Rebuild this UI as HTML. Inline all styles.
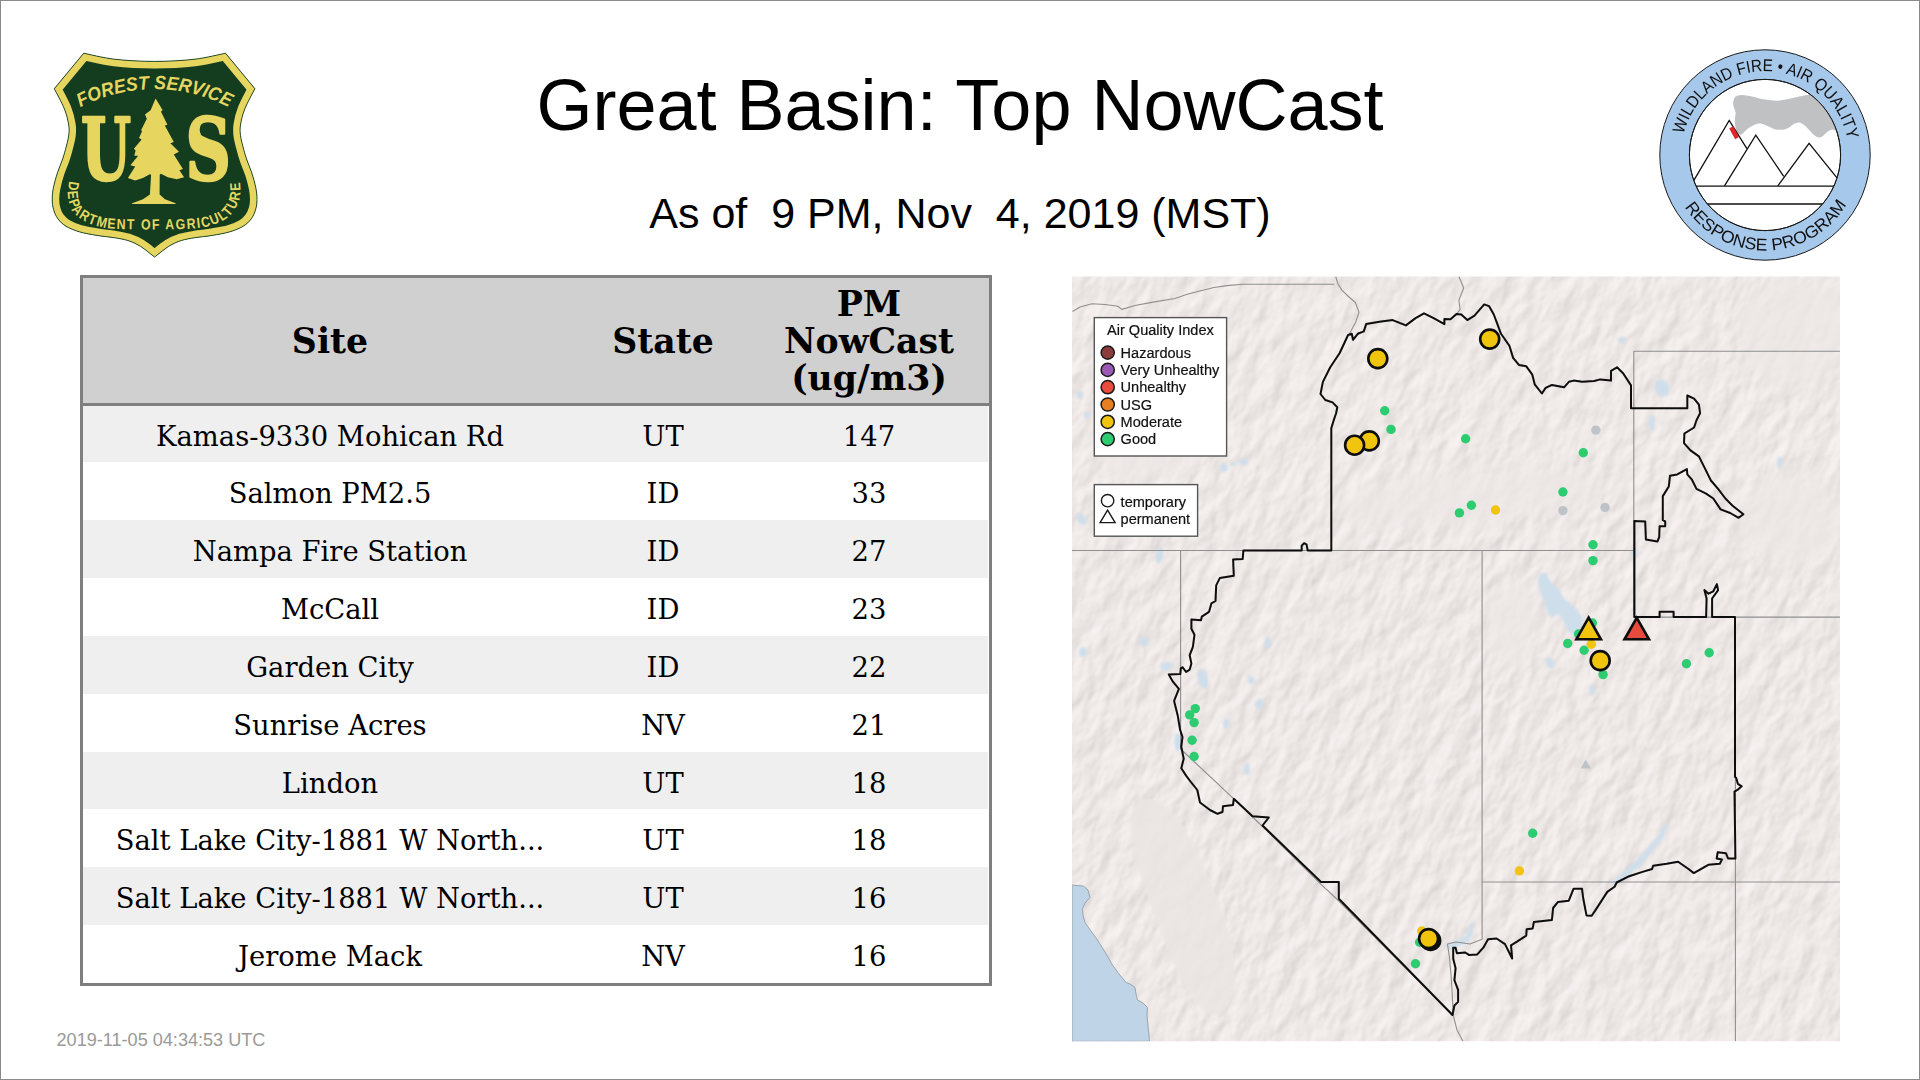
<!DOCTYPE html>
<html lang="en">
<head>
<meta charset="utf-8">
<title>Great Basin: Top NowCast</title>
<style>
  html, body { margin: 0; padding: 0; background: #ffffff; }
  body { width: 1920px; height: 1080px; position: relative; overflow: hidden;
         font-family: "Liberation Sans", sans-serif; color: #000; }
  #frame { position: absolute; left: 0; top: 0; width: 1918px; height: 1078px;
           border: 1px solid #8a8a8a; box-sizing: content-box; pointer-events: none; z-index: 10; }
  #title { position: absolute; left: 0; width: 1920px; top: 64px; text-align: center;
           font-size: 72px; line-height: 82px; white-space: pre; }
  #subtitle { position: absolute; left: 0; width: 1920px; top: 189px; text-align: center;
           font-size: 43px; line-height: 48px; white-space: pre; }
  #stamp { position: absolute; left: 56.5px; top: 1029.7px; font-size: 18.1px; line-height: 20px;
           color: #9a9a9a; white-space: pre; }

  /* ---------- table ---------- */
  #tbl { position: absolute; left: 80px; top: 275px; width: 906px; height: 705px;
         border: 3px solid #7f7f7f; background: #ffffff;
         font-family: "DejaVu Serif", "Liberation Serif", serif; }
  #tbl .hd { position: absolute; left: 0; top: 0; width: 906px; height: 125px; background: #d0d0d0;
             border-bottom: 3px solid #7f7f7f; font-weight: bold; font-size: 34.67px; line-height: 37.3px; }
  #tbl .hd div { position: absolute; text-align: center; }
  #tbl .row { position: absolute; left: 0; width: 905px; }
  #tbl .row.odd { background: #efefef; }
  #tbl .row span { position: absolute; top: 0; text-align: center; font-size: 27.4px; white-space: pre; }
  #tbl .c1 { left: 0; width: 494px; }
  #tbl .c2 { left: 494px; width: 172px; }
  #tbl .c3 { left: 666px; width: 240px; }
</style>
</head>
<body>
<div id="title">Great Basin: Top NowCast</div>
<div id="subtitle">As of  9 PM, Nov  4, 2019 (MST)</div>

<div id="tbl">
  <div class="hd">
    <div class="c1" style="top:43.5px">Site</div>
    <div class="c2" style="top:43.5px">State</div>
    <div class="c3" style="top:6.5px">PM<br>NowCast<br>(ug/m3)</div>
  </div>
  <div class="row odd" style="top:128px;height:56px;line-height:61.5px"><span class="c1">Kamas-9330 Mohican Rd</span><span class="c2">UT</span><span class="c3">147</span></div>
  <div class="row" style="top:184px;height:57.9px;line-height:63.5px"><span class="c1">Salmon PM2.5</span><span class="c2">ID</span><span class="c3">33</span></div>
  <div class="row odd" style="top:241.9px;height:57.9px;line-height:63.5px"><span class="c1">Nampa Fire Station</span><span class="c2">ID</span><span class="c3">27</span></div>
  <div class="row" style="top:299.8px;height:57.9px;line-height:63.5px"><span class="c1">McCall</span><span class="c2">ID</span><span class="c3">23</span></div>
  <div class="row odd" style="top:357.7px;height:57.9px;line-height:63.5px"><span class="c1">Garden City</span><span class="c2">ID</span><span class="c3">22</span></div>
  <div class="row" style="top:415.6px;height:57.9px;line-height:63.5px"><span class="c1">Sunrise Acres</span><span class="c2">NV</span><span class="c3">21</span></div>
  <div class="row odd" style="top:473.5px;height:57.9px;line-height:63.5px"><span class="c1">Lindon</span><span class="c2">UT</span><span class="c3">18</span></div>
  <div class="row" style="top:531.4px;height:57.9px;line-height:63.5px"><span class="c1">Salt Lake City-1881 W North...</span><span class="c2">UT</span><span class="c3">18</span></div>
  <div class="row odd" style="top:589.3px;height:57.9px;line-height:63.5px"><span class="c1">Salt Lake City-1881 W North...</span><span class="c2">UT</span><span class="c3">16</span></div>
  <div class="row" style="top:647.2px;height:57.8px;line-height:63.5px"><span class="c1">Jerome Mack</span><span class="c2">NV</span><span class="c3">16</span></div>
</div>

<div id="stamp">2019-11-05 04:34:53 UTC</div>

<!--MAP-->
<svg id="map" width="1920" height="1080" viewBox="0 0 1920 1080" style="position:absolute;left:0;top:0">
<defs><clipPath id="mclip"><rect x="1072" y="276.4" width="768" height="764.9"/></clipPath>
<filter id="relief" x="0" y="0" width="100%" height="100%" color-interpolation-filters="sRGB"><feTurbulence type="fractalNoise" baseFrequency="0.06 0.032" numOctaves="5" seed="7" result="n"/><feDiffuseLighting in="n" surfaceScale="1.25" diffuseConstant="1.2" lighting-color="#f3edec" result="l"><feDistantLight azimuth="200" elevation="55"/></feDiffuseLighting><feGaussianBlur in="l" stdDeviation="0.9"/></filter>
<filter id="soft"><feGaussianBlur stdDeviation="1.1"/></filter><filter id="soft6" x="-30%" y="-30%" width="160%" height="160%"><feGaussianBlur stdDeviation="9"/></filter>
<filter id="soft2"><feGaussianBlur stdDeviation="0.6"/></filter></defs>
<g clip-path="url(#mclip)">
<rect x="1072" y="276.4" width="768" height="764.9" fill="#ece6e5"/>
<g transform="rotate(24 1456 658)"><rect x="880" y="90" width="1150" height="1140" filter="url(#relief)" opacity="0.5"/></g>
<g fill="#ede7e6" opacity="0.75" filter="url(#soft6)"><ellipse cx="1470" cy="497" rx="135" ry="26" transform="rotate(-6 1470 497)"/><ellipse cx="1512" cy="625" rx="26" ry="44"/><ellipse cx="1795" cy="330" rx="55" ry="55"/><ellipse cx="1790" cy="520" rx="55" ry="45"/><ellipse cx="1150" cy="430" rx="60" ry="50"/></g>
<path d="M1140 800 C1165 790 1190 830 1210 880 C1232 930 1245 985 1225 1010 C1205 1030 1180 985 1160 930 C1140 880 1120 820 1140 800Z" fill="#ebe5e4" opacity="0.85" filter="url(#soft)"/>
<path d="M1072.0 885.0 L1083.8 886.2 L1088.0 890.0 L1090.0 897.5 L1085.0 903.0 L1082.5 908.8 L1083.0 915.0 L1085.0 922.5 L1091.0 931.0 L1097.5 940.0 L1105.0 952.0 L1112.5 965.0 L1119.0 974.0 L1126.2 982.5 L1131.0 984.5 L1135.0 987.5 L1136.0 994.0 L1137.5 1000.0 L1143.0 1003.0 L1147.5 1007.5 L1147.0 1016.0 L1148.0 1025.0 L1149.5 1041.3 L1072.0 1041.3 Z" fill="#bfd4e6" stroke="#9aa4ad" stroke-width="1" filter="url(#soft2)"/>
<g fill="#cfdeeb" filter="url(#soft)">
<path d="M1539.8 573.1 L1546.3 572.7 L1548.1 577.8 L1553.7 585.2 L1559.3 588.9 L1563.9 599.1 L1570.4 603.7 L1576.9 609.3 L1581.5 616.7 L1583.3 623.1 L1578.7 631.5 L1574.1 635.2 L1568.5 631.5 L1563.9 622.2 L1559.3 613.9 L1555.6 614.8 L1551.9 618.5 L1548.1 613.9 L1544.4 601.9 L1540.7 592.6 L1537.5 581.5 Z"/>
<path d="M1668.0 824.0 L1664.0 836.0 L1652.0 852.0 L1640.0 866.0 L1626.0 877.0 L1614.0 886.0 L1611.0 883.0 L1622.0 873.0 L1636.0 861.0 L1648.0 848.0 L1659.0 834.0 L1664.0 824.0 Z"/>
<path d="M1447.0 944.0 L1456.0 941.0 L1466.0 936.0 L1470.0 925.0 L1474.0 922.0 L1473.0 933.0 L1468.0 942.0 L1458.0 947.0 L1448.0 950.0 Z"/>
<ellipse cx="1203" cy="679" rx="5" ry="10" transform="rotate(-15 1203 679)"/>
<ellipse cx="1177.7" cy="741.9" rx="3.5" ry="9" transform="rotate(0 1177.7 741.9)"/>
<ellipse cx="1662" cy="388" rx="7" ry="9" transform="rotate(-30 1662 388)"/>
<ellipse cx="1652" cy="423" rx="3" ry="8" transform="rotate(0 1652 423)"/>
<ellipse cx="1592" cy="690" rx="2.5" ry="5" transform="rotate(0 1592 690)"/>
<ellipse cx="1224" cy="468" rx="4" ry="4" transform="rotate(0 1224 468)"/>
<ellipse cx="1243.6" cy="461.9" rx="5" ry="3" transform="rotate(0 1243.6 461.9)"/>
<ellipse cx="1233" cy="464" rx="3" ry="2" transform="rotate(0 1233 464)"/>
<ellipse cx="1081.6" cy="519" rx="4" ry="6" transform="rotate(-30 1081.6 519)"/>
<ellipse cx="1159.4" cy="555.3" rx="4" ry="8" transform="rotate(10 1159.4 555.3)"/>
<ellipse cx="1166.4" cy="666.4" rx="6" ry="4" transform="rotate(-20 1166.4 666.4)"/>
<ellipse cx="1259.4" cy="703.9" rx="4" ry="5" transform="rotate(20 1259.4 703.9)"/>
<ellipse cx="1251.1" cy="680.3" rx="3" ry="4" transform="rotate(0 1251.1 680.3)"/>
<ellipse cx="1144.2" cy="641.4" rx="4" ry="5" transform="rotate(0 1144.2 641.4)"/>
<ellipse cx="1226.1" cy="723.3" rx="3" ry="5" transform="rotate(10 1226.1 723.3)"/>
<ellipse cx="1246.9" cy="769.2" rx="3" ry="6" transform="rotate(0 1246.9 769.2)"/>
<ellipse cx="1267.8" cy="642.8" rx="3" ry="6" transform="rotate(10 1267.8 642.8)"/>
<ellipse cx="1779.5" cy="462.4" rx="2.5" ry="6" transform="rotate(0 1779.5 462.4)"/>
<ellipse cx="1634" cy="553" rx="3" ry="5" transform="rotate(0 1634 553)"/>
<ellipse cx="1550" cy="663" rx="4" ry="6" transform="rotate(-30 1550 663)"/>
<ellipse cx="1083" cy="652" rx="4" ry="5" transform="rotate(0 1083 652)"/>
<ellipse cx="1622" cy="340" rx="4" ry="3" transform="rotate(0 1622 340)"/>
<ellipse cx="1080" cy="395" rx="3" ry="4" transform="rotate(0 1080 395)"/>
<ellipse cx="1087" cy="415" rx="3" ry="3" transform="rotate(0 1087 415)"/>
</g>
<g fill="none" stroke="#8f8f8f" stroke-width="1.1" stroke-linejoin="round" filter="url(#soft2)">
<path d="M1072.5 311.5 L1080.0 307.0 L1092.0 303.7 L1105.0 304.5 L1117.9 306.3 L1121.7 309.4 L1135.0 305.5 L1151.6 302.4 L1174.9 298.5 L1188.0 294.0 L1200.8 290.7 L1214.0 287.5 L1226.8 285.6 L1242.3 284.3 L1334.4 284.3"/>
<path d="M1335.7 276.5 L1338.0 284.0 L1342.1 290.4 L1349.0 297.0 L1355.4 302.5 L1359.0 312.1 L1355.9 321.7 L1349.3 334.0"/>
<path d="M1458.9 276.5 L1463.7 288.0 L1458.9 300.1 L1460.1 309.7 L1456.5 314.0"/>
<path d="M1072.0 550.5 L1633.8 550.5"/>
<path d="M1180.6 550.5 L1180.6 749.0 L1233.8 798.8 L1262.5 826.5 L1321.0 884.3 L1338.8 901.0 L1452.5 1015.0"/>
<path d="M1482.1 550.5 L1482.1 939.3"/>
<path d="M1840.0 351.2 L1633.8 351.2 L1633.8 617.1 L1840.0 617.1"/>
<path d="M1735.4 617.1 L1735.4 1041.3"/>
<path d="M1482.1 882.0 L1840.0 882.0"/>
<path d="M1482.1 939.3 L1470.0 944.0 L1456.0 942.0 L1447.5 944.0 L1449.6 958.5 L1451.0 975.0 L1452.0 990.0 L1453.2 1015.1 L1457.0 1030.0 L1462.9 1041.3"/>
</g>
<path d="M1331.3 550.5 L1331.3 428.2 L1333.7 420.4 L1336.1 413.2 L1337.3 407.2 L1332.5 402.4 L1325.3 400.0 L1320.5 394.0 L1322.9 381.9 L1330.1 367.5 L1339.7 353.0 L1348.1 335.0 L1351.8 333.8 L1353.0 339.8 L1357.8 333.8 L1363.8 331.4 L1366.2 324.1 L1379.4 321.7 L1392.7 320.1 L1405.9 325.4 L1415.6 318.1 L1424.0 313.3 L1433.6 318.1 L1444.4 324.1 L1444.4 318.9 L1450.5 319.3 L1456.5 314.0 L1461.3 314.5 L1467.3 320.1 L1474.5 315.7 L1484.2 304.4 L1489.0 306.1 L1493.8 314.5 L1497.4 324.1 L1501.0 333.8 L1509.4 345.8 L1513.1 357.9 L1519.1 365.1 L1526.3 366.3 L1532.3 374.7 L1534.7 384.3 L1541.9 393.5 L1545.6 387.9 L1552.0 384.9 L1564.1 387.3 L1568.9 381.8 L1573.7 380.6 L1582.1 381.8 L1594.2 381.0 L1600.2 379.4 L1611.0 380.6 L1611.0 370.9 L1617.0 367.3 L1623.1 373.3 L1631.0 385.4 L1631.0 408.2 L1687.3 408.2 L1687.3 395.5 L1694.1 398.6 L1698.9 404.6 L1700.1 413.1 L1696.5 420.3 L1694.1 427.5 L1684.4 433.5 L1684.0 443.1 L1690.5 450.4 L1698.9 456.4 L1704.9 468.4 L1710.9 480.5 L1718.1 488.9 L1725.4 498.5 L1732.6 505.7 L1743.4 514.2 L1738.6 517.8 L1730.2 513.0 L1720.6 509.4 L1713.3 498.5 L1706.1 493.7 L1696.5 488.9 L1691.7 479.3 L1687.3 474.4 L1686.9 469.1 L1677.2 474.4 L1670.0 475.7 L1668.8 486.5 L1662.8 496.1 L1662.8 520.2 L1665.2 521.4 L1665.2 526.2 L1659.6 526.2 L1659.2 537.0 L1657.5 541.4 L1645.9 539.4 L1645.2 521.4 L1634.4 520.9 L1634.4 617.1 L1659.6 617.1 L1659.6 611.8 L1673.6 611.8 L1673.6 617.1 L1706.1 617.1 L1706.6 598.5 L1704.4 590.1 L1708.5 593.7 L1713.3 591.3 L1716.9 584.1 L1718.1 590.1 L1712.1 598.5 L1712.1 617.1 L1735.0 617.1 L1735.0 776.7 L1736.2 777.9 L1737.9 783.9 L1741.7 786.3 L1737.4 789.9 L1734.5 791.6 L1735.4 858.5 L1735.4 858.5 L1728.1 858.5 L1726.0 853.3 L1717.7 852.3 L1716.7 858.5 L1721.9 859.6 L1719.8 863.8 L1708.3 864.8 L1693.8 873.1 L1688.5 869.0 L1678.1 861.7 L1666.7 863.8 L1653.1 865.8 L1652.1 869.0 L1641.7 872.1 L1629.2 876.2 L1616.7 882.5 L1614.6 886.7 L1607.3 891.9 L1595.8 909.6 L1591.7 915.8 L1586.5 915.4 L1583.2 898.3 L1582.0 888.7 L1573.6 888.7 L1568.8 900.7 L1558.0 901.9 L1553.1 908.0 L1551.9 920.0 L1533.9 921.9 L1532.7 928.4 L1526.7 929.2 L1526.2 935.7 L1517.0 941.7 L1511.0 945.3 L1512.2 958.5 L1509.8 953.7 L1505.0 944.1 L1496.6 938.5 L1488.1 939.3 L1483.3 947.7 L1477.3 954.4 L1468.9 954.9 L1465.3 952.5 L1456.9 953.2 L1455.6 947.7 L1453.2 947.7 L1453.2 958.5 L1455.6 968.2 L1454.4 980.2 L1458.1 989.8 L1458.1 1001.9 L1454.4 1005.5 L1452.5 1015.0 L1338.8 898.7 L1338.8 882.0 L1321.0 882.0 L1262.5 825.5 L1268.8 817.5 L1252.5 816.2 L1233.8 798.8 L1233.0 805.0 L1223.0 806.2 L1222.5 812.0 L1217.5 813.8 L1210.0 810.0 L1200.0 802.5 L1197.3 790.0 L1190.5 781.5 L1186.1 775.6 L1181.3 768.3 L1183.7 758.7 L1181.3 746.7 L1182.5 737.0 L1180.1 729.8 L1177.7 715.4 L1174.1 700.9 L1178.9 688.9 L1172.9 681.7 L1168.8 674.4 L1180.3 674.0 L1180.8 668.4 L1182.5 667.2 L1186.1 672.0 L1189.7 669.6 L1191.4 663.6 L1189.7 655.2 L1192.9 646.8 L1194.5 634.7 L1191.4 628.7 L1191.4 619.6 L1201.0 620.3 L1201.8 616.7 L1209.0 611.9 L1211.4 603.4 L1215.5 601.0 L1216.2 585.4 L1219.8 578.1 L1233.8 575.7 L1233.1 559.4 L1242.7 558.9 L1243.4 550.5 L1301.7 550.5 L1301.7 545.6 L1304.1 543.2 L1306.5 544.4 L1307.7 550.5 Z" fill="none" stroke="#0a0a0a" stroke-width="2.0" stroke-linejoin="round" filter="url(#soft2)"/>
<g fill="#2ecc71" filter="url(#soft2)"><circle cx="1384.7" cy="410.8" r="4.7"/><circle cx="1391" cy="429.4" r="4.7"/><circle cx="1465.6" cy="438.7" r="4.7"/><circle cx="1471.4" cy="505.2" r="4.7"/><circle cx="1459.4" cy="512.9" r="4.7"/><circle cx="1562.9" cy="492" r="4.7"/><circle cx="1583.3" cy="452.8" r="4.7"/><circle cx="1593" cy="544.7" r="4.7"/><circle cx="1593" cy="560.6" r="4.7"/><circle cx="1592.4" cy="623" r="4.7"/><circle cx="1578.5" cy="634" r="4.7"/><circle cx="1567.7" cy="643.5" r="4.7"/><circle cx="1584.1" cy="650.3" r="4.7"/><circle cx="1603.1" cy="674.6" r="4.7"/><circle cx="1686.4" cy="663.8" r="4.7"/><circle cx="1709.2" cy="652.7" r="4.7"/><circle cx="1532.7" cy="833.3" r="4.7"/><circle cx="1195.3" cy="708.6" r="4.7"/><circle cx="1189.7" cy="714.9" r="4.7"/><circle cx="1194.1" cy="722.6" r="4.7"/><circle cx="1192.1" cy="740.2" r="4.7"/><circle cx="1194.1" cy="756.5" r="4.7"/><circle cx="1419.6" cy="942.3" r="4.7"/><circle cx="1415.5" cy="963.75" r="4.7"/></g>
<g fill="#f1c40f" filter="url(#soft2)"><circle cx="1495.5" cy="510" r="4.7"/><circle cx="1591.3" cy="644.3" r="4.7"/><circle cx="1519.4" cy="870.9" r="4.7"/><circle cx="1421.8" cy="931" r="4.7"/></g>
<g fill="#bdc3c7" filter="url(#soft2)"><circle cx="1595.9" cy="430.1" r="4.7"/><circle cx="1562.9" cy="510.6" r="4.7"/><circle cx="1605" cy="507.4" r="4.7"/></g>
<path d="M1585.7 759.6 L1590.9 768.4 L1580.5 768.4 Z" fill="#bdc3c7" filter="url(#soft2)"/>
<g stroke="#0a0a0a" stroke-width="2.6" stroke-linejoin="miter" filter="url(#soft2)">
<circle cx="1430.6" cy="940.4" r="9.5" fill="#0a0a0a"/>
<circle cx="1428.6" cy="938.6" r="9.5" fill="#f1c40f"/>
<circle cx="1377.8" cy="358.6" r="9.5" fill="#f1c40f"/>
<circle cx="1489.7" cy="339.1" r="9.5" fill="#f1c40f"/>
<circle cx="1369.3" cy="440.9" r="9.5" fill="#f1c40f"/>
<circle cx="1354.6" cy="445.2" r="9.5" fill="#f1c40f"/>
<circle cx="1600.2" cy="660.6" r="9.5" fill="#f1c40f"/>
<path d="M1588.65 617.6 L1600.9 639.3 L1576.4 639.3 Z" fill="#f1c40f"/>
<path d="M1636.75 617.9 L1649 639.3 L1624.5 639.3 Z" fill="#e74c3c"/>
</g>
</g>
<g font-family="'Liberation Sans', sans-serif" font-size="14.55" fill="#111" stroke="#111" stroke-width="0.2">
<rect x="1094.3" y="317.6" width="132.3" height="138.4" fill="#fff" stroke="#555" stroke-width="1.4"/>
<text x="1160.4" y="334.6" text-anchor="middle">Air Quality Index</text>
<circle cx="1107.7" cy="352.6" r="6.6" fill="#8c3a3a" stroke="#1a1a1a" stroke-width="1.5"/>
<text x="1120.6" y="357.6">Hazardous</text>
<circle cx="1107.7" cy="369.9" r="6.6" fill="#9b59b6" stroke="#1a1a1a" stroke-width="1.5"/>
<text x="1120.6" y="374.9">Very Unhealthy</text>
<circle cx="1107.7" cy="387.2" r="6.6" fill="#e74c3c" stroke="#1a1a1a" stroke-width="1.5"/>
<text x="1120.6" y="392.2">Unhealthy</text>
<circle cx="1107.7" cy="404.5" r="6.6" fill="#e67e22" stroke="#1a1a1a" stroke-width="1.5"/>
<text x="1120.6" y="409.5">USG</text>
<circle cx="1107.7" cy="421.8" r="6.6" fill="#f1c40f" stroke="#1a1a1a" stroke-width="1.5"/>
<text x="1120.6" y="426.8">Moderate</text>
<circle cx="1107.7" cy="439.1" r="6.6" fill="#2ecc71" stroke="#1a1a1a" stroke-width="1.5"/>
<text x="1120.6" y="444.1">Good</text>
<rect x="1094.3" y="484.6" width="103.3" height="51.6" fill="#fff" stroke="#555" stroke-width="1.4"/>
<circle cx="1107.6" cy="500.7" r="6.2" fill="#fff" stroke="#1a1a1a" stroke-width="1.4"/>
<path d="M1107.6 510.2 L1115.1 522.6 L1100.1 522.6 Z" fill="#fff" stroke="#1a1a1a" stroke-width="1.4" stroke-linejoin="miter"/>
<text x="1120.6" y="506.5">temporary</text>
<text x="1120.6" y="523.6">permanent</text>
</g>
</svg>
<!--/MAP-->
<!--LOGO1-->
<svg id="fs" width="300" height="300" viewBox="0 0 300 300" style="position:absolute;left:0;top:0">
<defs><clipPath id="shc"><path d="M83.7 53.2 C88.8 54.2 102.7 57.8 114.5 59.2 C126.3 60.6 141.2 61.4 154.6 61.4 C168.0 61.4 182.9 60.6 194.7 59.2 C206.5 57.8 220.4 54.2 225.5 53.2 L254.9 88.7 C253.2 92.1 247.2 102.9 244.8 108.9 C242.4 114.9 241.2 120.5 240.5 124.9 C239.8 129.3 240.0 131.4 240.5 135.5 C241.0 139.6 242.6 145.3 243.7 149.4 C244.8 153.5 245.6 156.1 246.9 160.0 C248.2 163.9 250.3 168.3 251.8 172.9 C253.3 177.5 254.9 183.4 255.8 187.8 C256.7 192.2 257.0 195.7 257.0 199.3 C257.0 202.9 256.6 206.3 255.6 209.6 C254.7 212.8 253.4 216.0 251.3 218.8 C249.2 221.6 246.8 224.0 243.2 226.2 C239.6 228.4 234.7 230.4 229.5 231.9 C224.3 233.4 218.0 234.4 212.3 235.4 C206.6 236.4 200.2 236.8 195.1 237.7 C189.9 238.5 185.8 239.1 181.4 240.5 C177.0 241.9 173.3 243.5 168.8 246.3 C164.3 249.1 157.0 255.3 154.6 257.1 C152.2 255.3 144.9 249.1 140.4 246.3 C135.9 243.5 132.2 241.9 127.8 240.5 C123.4 239.1 119.2 238.5 114.1 237.7 C108.9 236.8 102.6 236.4 96.9 235.4 C91.2 234.4 84.8 233.4 79.7 231.9 C74.5 230.4 69.6 228.4 66.0 226.2 C62.4 224.0 60.0 221.6 57.9 218.8 C55.8 216.0 54.5 212.8 53.6 209.6 C52.6 206.3 52.2 202.9 52.2 199.3 C52.2 195.7 52.5 192.2 53.4 187.8 C54.3 183.4 55.9 177.5 57.4 172.9 C58.9 168.3 60.9 163.9 62.3 160.0 C63.6 156.1 64.4 153.5 65.5 149.4 C66.6 145.3 68.2 139.6 68.7 135.5 C69.2 131.4 69.4 129.3 68.7 124.9 C68.0 120.5 66.8 114.9 64.4 108.9 C62.0 102.9 56.0 92.1 54.3 88.7 Z"/></clipPath>
<path id="fsTop" d="M70 113.2 A160.9 160.9 0 0 1 239.2 113.2"/>
<path id="fsBot" d="M69.4 180 C69.2 182.6 67.5 190.9 67.9 195.8 C68.3 200.7 70.0 206.0 71.9 209.6 C73.8 213.2 76.5 215.3 79.4 217.6 C82.3 219.9 85.8 221.8 89.1 223.3 C92.3 224.8 95.6 225.6 98.9 226.5 C102.2 227.4 104.8 228.0 109.2 228.5 C113.6 229.0 118.7 229.1 125.2 229.3 C131.7 229.5 141.0 229.6 148.1 229.6 C155.2 229.6 160.9 229.4 167.6 229.3 C174.3 229.2 181.9 229.2 188.2 228.8 C194.5 228.4 200.6 227.9 205.4 227.0 C210.2 226.1 213.5 224.7 216.9 223.3 C220.3 221.9 223.3 220.7 226.0 218.8 C228.7 216.9 230.8 214.8 232.9 211.9 C235.0 209.0 237.3 204.8 238.6 201.6 C239.8 198.3 240.2 196.1 240.4 192.4 C240.6 188.7 239.9 181.4 239.8 179.2"/></defs>
<path d="M83.7 53.2 C88.8 54.2 102.7 57.8 114.5 59.2 C126.3 60.6 141.2 61.4 154.6 61.4 C168.0 61.4 182.9 60.6 194.7 59.2 C206.5 57.8 220.4 54.2 225.5 53.2 L254.9 88.7 C253.2 92.1 247.2 102.9 244.8 108.9 C242.4 114.9 241.2 120.5 240.5 124.9 C239.8 129.3 240.0 131.4 240.5 135.5 C241.0 139.6 242.6 145.3 243.7 149.4 C244.8 153.5 245.6 156.1 246.9 160.0 C248.2 163.9 250.3 168.3 251.8 172.9 C253.3 177.5 254.9 183.4 255.8 187.8 C256.7 192.2 257.0 195.7 257.0 199.3 C257.0 202.9 256.6 206.3 255.6 209.6 C254.7 212.8 253.4 216.0 251.3 218.8 C249.2 221.6 246.8 224.0 243.2 226.2 C239.6 228.4 234.7 230.4 229.5 231.9 C224.3 233.4 218.0 234.4 212.3 235.4 C206.6 236.4 200.2 236.8 195.1 237.7 C189.9 238.5 185.8 239.1 181.4 240.5 C177.0 241.9 173.3 243.5 168.8 246.3 C164.3 249.1 157.0 255.3 154.6 257.1 C152.2 255.3 144.9 249.1 140.4 246.3 C135.9 243.5 132.2 241.9 127.8 240.5 C123.4 239.1 119.2 238.5 114.1 237.7 C108.9 236.8 102.6 236.4 96.9 235.4 C91.2 234.4 84.8 233.4 79.7 231.9 C74.5 230.4 69.6 228.4 66.0 226.2 C62.4 224.0 60.0 221.6 57.9 218.8 C55.8 216.0 54.5 212.8 53.6 209.6 C52.6 206.3 52.2 202.9 52.2 199.3 C52.2 195.7 52.5 192.2 53.4 187.8 C54.3 183.4 55.9 177.5 57.4 172.9 C58.9 168.3 60.9 163.9 62.3 160.0 C63.6 156.1 64.4 153.5 65.5 149.4 C66.6 145.3 68.2 139.6 68.7 135.5 C69.2 131.4 69.4 129.3 68.7 124.9 C68.0 120.5 66.8 114.9 64.4 108.9 C62.0 102.9 56.0 92.1 54.3 88.7 Z" fill="#143d20"/>
<path d="M83.7 53.2 C88.8 54.2 102.7 57.8 114.5 59.2 C126.3 60.6 141.2 61.4 154.6 61.4 C168.0 61.4 182.9 60.6 194.7 59.2 C206.5 57.8 220.4 54.2 225.5 53.2 L254.9 88.7 C253.2 92.1 247.2 102.9 244.8 108.9 C242.4 114.9 241.2 120.5 240.5 124.9 C239.8 129.3 240.0 131.4 240.5 135.5 C241.0 139.6 242.6 145.3 243.7 149.4 C244.8 153.5 245.6 156.1 246.9 160.0 C248.2 163.9 250.3 168.3 251.8 172.9 C253.3 177.5 254.9 183.4 255.8 187.8 C256.7 192.2 257.0 195.7 257.0 199.3 C257.0 202.9 256.6 206.3 255.6 209.6 C254.7 212.8 253.4 216.0 251.3 218.8 C249.2 221.6 246.8 224.0 243.2 226.2 C239.6 228.4 234.7 230.4 229.5 231.9 C224.3 233.4 218.0 234.4 212.3 235.4 C206.6 236.4 200.2 236.8 195.1 237.7 C189.9 238.5 185.8 239.1 181.4 240.5 C177.0 241.9 173.3 243.5 168.8 246.3 C164.3 249.1 157.0 255.3 154.6 257.1 C152.2 255.3 144.9 249.1 140.4 246.3 C135.9 243.5 132.2 241.9 127.8 240.5 C123.4 239.1 119.2 238.5 114.1 237.7 C108.9 236.8 102.6 236.4 96.9 235.4 C91.2 234.4 84.8 233.4 79.7 231.9 C74.5 230.4 69.6 228.4 66.0 226.2 C62.4 224.0 60.0 221.6 57.9 218.8 C55.8 216.0 54.5 212.8 53.6 209.6 C52.6 206.3 52.2 202.9 52.2 199.3 C52.2 195.7 52.5 192.2 53.4 187.8 C54.3 183.4 55.9 177.5 57.4 172.9 C58.9 168.3 60.9 163.9 62.3 160.0 C63.6 156.1 64.4 153.5 65.5 149.4 C66.6 145.3 68.2 139.6 68.7 135.5 C69.2 131.4 69.4 129.3 68.7 124.9 C68.0 120.5 66.8 114.9 64.4 108.9 C62.0 102.9 56.0 92.1 54.3 88.7 Z" fill="none" stroke="#e6d660" stroke-width="14" clip-path="url(#shc)"/>
<path d="M83.7 53.2 C88.8 54.2 102.7 57.8 114.5 59.2 C126.3 60.6 141.2 61.4 154.6 61.4 C168.0 61.4 182.9 60.6 194.7 59.2 C206.5 57.8 220.4 54.2 225.5 53.2 L254.9 88.7 C253.2 92.1 247.2 102.9 244.8 108.9 C242.4 114.9 241.2 120.5 240.5 124.9 C239.8 129.3 240.0 131.4 240.5 135.5 C241.0 139.6 242.6 145.3 243.7 149.4 C244.8 153.5 245.6 156.1 246.9 160.0 C248.2 163.9 250.3 168.3 251.8 172.9 C253.3 177.5 254.9 183.4 255.8 187.8 C256.7 192.2 257.0 195.7 257.0 199.3 C257.0 202.9 256.6 206.3 255.6 209.6 C254.7 212.8 253.4 216.0 251.3 218.8 C249.2 221.6 246.8 224.0 243.2 226.2 C239.6 228.4 234.7 230.4 229.5 231.9 C224.3 233.4 218.0 234.4 212.3 235.4 C206.6 236.4 200.2 236.8 195.1 237.7 C189.9 238.5 185.8 239.1 181.4 240.5 C177.0 241.9 173.3 243.5 168.8 246.3 C164.3 249.1 157.0 255.3 154.6 257.1 C152.2 255.3 144.9 249.1 140.4 246.3 C135.9 243.5 132.2 241.9 127.8 240.5 C123.4 239.1 119.2 238.5 114.1 237.7 C108.9 236.8 102.6 236.4 96.9 235.4 C91.2 234.4 84.8 233.4 79.7 231.9 C74.5 230.4 69.6 228.4 66.0 226.2 C62.4 224.0 60.0 221.6 57.9 218.8 C55.8 216.0 54.5 212.8 53.6 209.6 C52.6 206.3 52.2 202.9 52.2 199.3 C52.2 195.7 52.5 192.2 53.4 187.8 C54.3 183.4 55.9 177.5 57.4 172.9 C58.9 168.3 60.9 163.9 62.3 160.0 C63.6 156.1 64.4 153.5 65.5 149.4 C66.6 145.3 68.2 139.6 68.7 135.5 C69.2 131.4 69.4 129.3 68.7 124.9 C68.0 120.5 66.8 114.9 64.4 108.9 C62.0 102.9 56.0 92.1 54.3 88.7 Z" fill="none" stroke="#143d20" stroke-width="0.9"/>
<path d="M155.6 98.6 L162.7 110.2 L160.9 111.4 L167.4 124.8 L164.8 125.6 L173.8 142.0 L170.4 143.2 L179.0 151.8 L173.8 154.4 L182.9 169.0 L179.4 170.3 L184.1 177.2 L176.8 179.3 L167.8 177.2 L160.9 173.8 L159.7 174.8 L159.6 194.5 L165.0 199.3 L175.6 203.2 L175.6 204.0 L132.1 204.0 L132.1 203.2 L143.0 199.3 L149.9 194.5 L151.1 174.8 L149.8 174.2 L142.9 178.0 L135.2 180.6 L127.9 178.0 L135.2 166.4 L130.4 165.2 L138.2 155.7 L134.3 155.7 L135.6 150.5 L133.9 148.8 L141.6 139.4 L139.0 138.1 L142.0 131.6 L141.2 129.9 L146.8 118.8 L145.0 114.5 L150.6 110.2 Z" fill="#e6d660"/>
<g fill="#e6d660" font-family="'DejaVu Serif Condensed', 'DejaVu Serif', 'Liberation Serif', serif" font-weight="bold" font-size="86.5" stroke="#e6d660" stroke-width="2.4" stroke-linejoin="round">
<text x="80.9" y="180.3" textLength="50" lengthAdjust="spacingAndGlyphs">U</text>
<text x="185.6" y="180.3" textLength="45.4" lengthAdjust="spacingAndGlyphs">S</text>
</g>
<text fill="#e6d660" font-family="'Liberation Sans', sans-serif" font-weight="bold" font-style="italic" font-size="19.2"><textPath href="#fsTop" startOffset="50%" text-anchor="middle" textLength="154" lengthAdjust="spacingAndGlyphs">FOREST SERVICE</textPath></text>
<text fill="#e6d660" font-family="'Liberation Sans', sans-serif" font-weight="bold" letter-spacing="1.7" font-size="14.6"><textPath href="#fsBot" startOffset="1" textLength="233.5" lengthAdjust="spacingAndGlyphs">DEPARTMENT OF AGRICULTURE</textPath></text>
</svg>
<!--/LOGO1-->
<!--LOGO2-->
<svg id="wf" width="1920" height="300" viewBox="0 0 1920 300" style="position:absolute;left:0;top:0">
<defs><clipPath id="wfc"><circle cx="1765.0" cy="155.0" r="75.6"/></clipPath>
<path id="wfTop" d="M1681.9 142.7 A84.0 84.0 0 0 1 1848.7 148.0"/>
<path id="wfBot" d="M1679.8 198.2 A95.5 95.5 0 0 0 1851.3 195.8"/></defs>
<circle cx="1765.0" cy="155.0" r="105.2" fill="#a6c8ea" stroke="#1a1a1a" stroke-width="1"/>
<circle cx="1765.0" cy="155.0" r="75.6" fill="#ffffff" stroke="#1a1a1a" stroke-width="1"/>
<g clip-path="url(#wfc)">
<path d="M1736.2 131.6 C1736.0 129.8 1734.9 124.1 1734.8 120.9 C1734.7 117.7 1735.9 115.2 1735.6 112.4 C1735.3 109.6 1733.1 106.4 1733.1 103.9 C1733.0 101.3 1733.8 98.6 1735.2 97.1 C1736.6 95.6 1738.7 95.1 1741.6 94.9 C1744.4 94.8 1748.3 95.7 1752.2 96.4 C1756.1 97.2 1760.7 98.9 1765.0 99.6 C1769.3 100.3 1773.5 100.9 1777.8 100.7 C1782.0 100.5 1786.3 99.4 1790.6 98.6 C1794.8 97.7 1799.8 96.4 1803.3 95.8 C1806.9 95.2 1809.0 94.0 1811.9 94.9 C1814.7 95.9 1817.7 99.0 1820.4 101.8 C1823.0 104.5 1825.5 108.0 1827.8 111.3 C1830.1 114.7 1832.4 118.5 1834.2 122.0 C1836.0 125.4 1838.6 130.8 1838.5 132.0 C1838.3 133.2 1834.8 129.6 1833.1 129.4 C1831.5 129.3 1830.1 130.2 1828.5 131.1 C1826.9 132.1 1825.1 134.3 1823.6 135.4 C1822.0 136.5 1820.7 137.5 1819.3 137.5 C1817.9 137.6 1816.6 137.0 1815.0 135.8 C1813.4 134.7 1811.5 132.3 1809.7 130.5 C1807.9 128.7 1806.2 126.5 1804.4 125.2 C1802.6 123.9 1800.8 122.8 1799.1 122.6 C1797.3 122.5 1795.3 123.3 1793.7 124.1 C1792.2 124.9 1791.1 126.4 1789.5 127.3 C1787.9 128.2 1786.5 129.1 1784.2 129.4 C1781.9 129.8 1778.3 130.0 1775.6 129.4 C1773.0 128.9 1770.7 127.2 1768.2 126.2 C1765.7 125.3 1763.0 123.7 1760.7 123.5 C1758.4 123.2 1756.7 123.8 1754.4 124.8 C1752.0 125.8 1749.2 127.8 1746.9 129.4 C1744.6 131.1 1742.3 134.4 1740.5 134.8 C1738.7 135.1 1737.0 132.1 1736.2 131.6 Z" fill="#c0c1c3"/>
<path d="M1693.7 180.6 L1729.2 120.5 L1746.9 148.6" fill="none" stroke="#111" stroke-width="1.3"/>
<path d="M1724.5 185.9 L1755.8 135.2 L1783.7 176.3" fill="#fff" stroke="#111" stroke-width="1.3"/>
<path d="M1777.8 185.9 L1809.1 143.3 L1837.4 178.4" fill="#fff" stroke="#111" stroke-width="1.3"/>
<path d="M1680 186.1 H1850 M1680 204.0 H1850" stroke="#111" stroke-width="1.3" fill="none"/>
<path d="M1729.2 128.4 L1733.1 126.2 L1739.0 136.9 L1735.2 139.2 Z" fill="#e02626"/>
</g>
<circle cx="1765.0" cy="155.0" r="75.6" fill="none" stroke="#1a1a1a" stroke-width="1"/>
<g font-family="'Liberation Sans', sans-serif" font-size="17" fill="#111">
<text><textPath href="#wfTop" startOffset="50%" text-anchor="middle" textLength="227" lengthAdjust="spacingAndGlyphs">WILDLAND FIRE • AIR QUALITY</textPath></text>
<text><textPath href="#wfBot" startOffset="50%" text-anchor="middle" textLength="193" lengthAdjust="spacingAndGlyphs">RESPONSE PROGRAM</textPath></text>
</g></svg>
<!--/LOGO2-->
<div id="frame"></div>
</body>
</html>
